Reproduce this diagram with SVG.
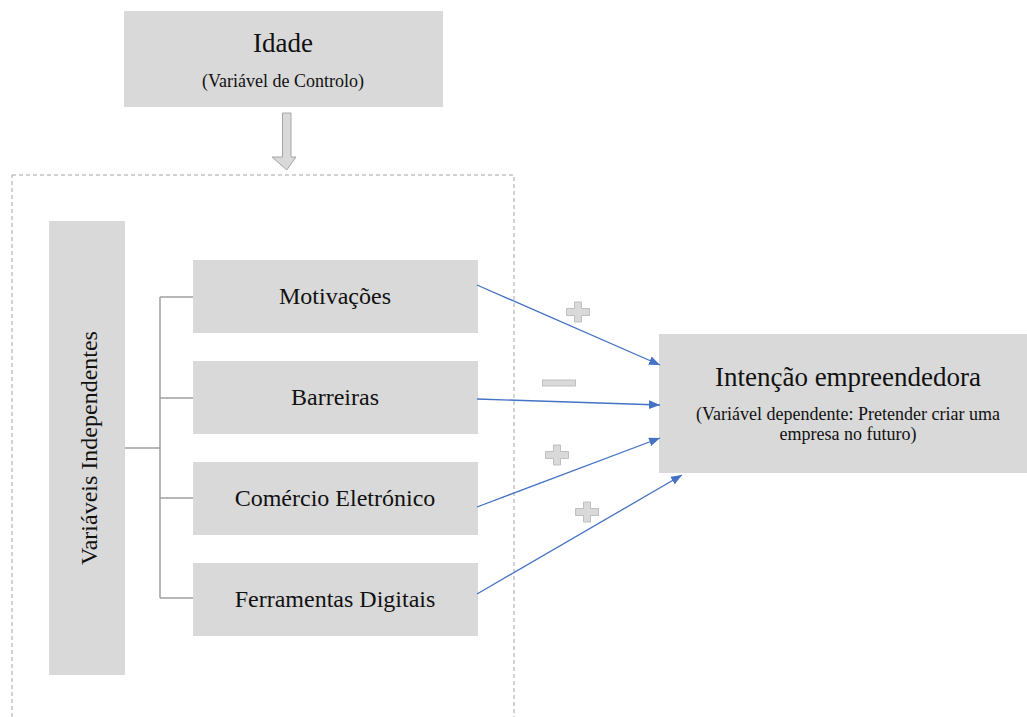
<svg xmlns="http://www.w3.org/2000/svg" xmlns:xlink="http://www.w3.org/1999/xlink" width="1027" height="717" viewBox="0 0 1027 717">
<style>
  text { font-family: "Liberation Serif", "Times New Roman", serif; fill: #111; text-anchor: middle; }
  .box { fill: #d9d9d9; }
  .t27 { font-size: 27px; }
  .t24 { font-size: 24px; }
  .t18 { font-size: 18px; }
  .tree { fill: none; stroke: #a0a0a0; stroke-width: 1.5; }
  .blue { fill: none; stroke: #4472c4; stroke-width: 1.3; marker-end: url(#ah); }
  .sign { fill: #d9d9d9; stroke: #bfbfbf; stroke-width: 1; }
</style>
<defs>
  <marker id="ah" viewBox="0 0 10 8" refX="10" refY="4" markerWidth="11" markerHeight="9" markerUnits="userSpaceOnUse" orient="auto">
    <path d="M0,0 L10,4 L0,8 Z" fill="#4472c4"/>
  </marker>
  <path id="plus" d="M-3.5,-10 H3.5 V-3.5 H11.5 V3.5 H3.5 V10 H-3.5 V3.5 H-11.5 V-3.5 H-3.5 Z"/>
  <rect id="minus" x="-16.5" y="-3" width="33" height="6"/>
</defs>

<rect x="12" y="175" width="502" height="560" fill="none" stroke="#a6a6a6" stroke-width="1" stroke-dasharray="4,3"/>

<g id="idade">
  <rect class="box" x="124" y="11" width="319" height="96"/>
  <text class="t27" x="283" y="52">Idade</text>
  <text class="t18" x="283" y="87">(Variável de Controlo)</text>
</g>

<g id="control-arrow">
  <path d="M282.5,113 H291 V157 H296 L286.8,170 L272,157 H282.5 Z" fill="#d9d9d9" stroke="#a6a6a6" stroke-width="1"/>
</g>

<g id="independentes">
  <rect class="box" x="49" y="221" width="76" height="454"/>
  <text class="t24" transform="translate(97,448) rotate(-90)">Variáveis Independentes</text>
</g>

<g id="motivacoes">
  <rect class="box" x="193" y="260" width="285" height="73"/>
  <text class="t24" x="335" y="304">Motivações</text>
</g>
<g id="barreiras">
  <rect class="box" x="193" y="361" width="285" height="73"/>
  <text class="t24" x="335" y="405">Barreiras</text>
</g>
<g id="comercio">
  <rect class="box" x="193" y="462" width="285" height="73"/>
  <text class="t24" x="335" y="506">Comércio Eletrónico</text>
</g>
<g id="ferramentas">
  <rect class="box" x="193" y="563" width="285" height="73"/>
  <text class="t24" x="335" y="607">Ferramentas Digitais</text>
</g>

<g id="intencao">
  <rect class="box" x="659" y="334" width="368" height="139"/>
  <text class="t27" x="848" y="386">Intenção empreendedora</text>
  <text class="t18" x="848" y="420">(Variável dependente: Pretender criar uma</text>
  <text class="t18" x="848" y="440">empresa no futuro)</text>
</g>

<g id="connectors">
  <path class="tree" d="M125,448 H160 M160,297 V598 M160,297 H193 M160,398 H193 M160,498 H193 M160,598 H193"/>
  <line class="blue" x1="477" y1="285" x2="660" y2="365"/>
  <line class="blue" x1="477" y1="399" x2="660" y2="405"/>
  <line class="blue" x1="477" y1="507" x2="660" y2="438"/>
  <line class="blue" x1="477" y1="594" x2="682" y2="475"/>
</g>

<g id="signs">
  <use xlink:href="#plus" class="sign" transform="translate(578,312)"/>
  <use xlink:href="#minus" class="sign" transform="translate(559,383)"/>
  <use xlink:href="#plus" class="sign" transform="translate(557,455)"/>
  <use xlink:href="#plus" class="sign" transform="translate(587,512)"/>
</g>
</svg>
